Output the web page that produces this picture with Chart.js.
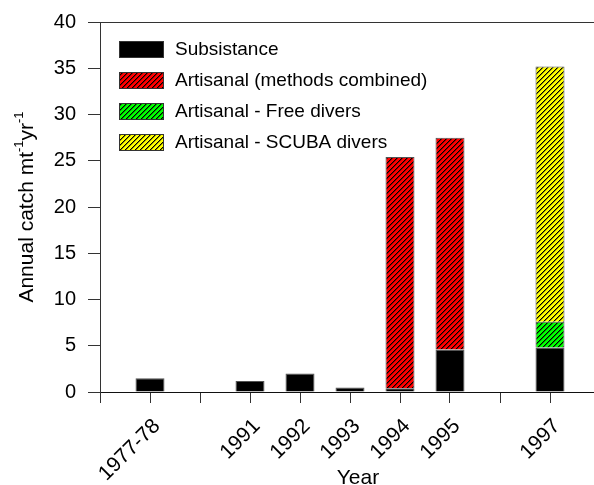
<!DOCTYPE html>
<html>
<head>
<meta charset="utf-8">
<script src="https://cdn.jsdelivr.net/npm/chart.js@4.4.1/dist/chart.umd.min.js"></script>
<style>
  html, body { margin: 0; padding: 0; background: #fff; }
  #wrap { width: 594px; height: 485px; position: relative; }
</style>
</head>
<body>
<div id="wrap"><canvas id="c" width="594" height="485"></canvas></div>
<script>
// Category slots along the x axis (blank slots leave gaps between periods)
const years = ['1977-78', '', '1991', '1992', '1993', '1994', '1995', '', '1997'];

// Annual catch (mt per year) by fishery component
const subsistence       = [1.5, null, 1.2, 2.0, 0.5, 0.4, 4.6, null, 4.8];
const artisanalCombined = [null, null, null, null, null, 25.0, 22.9, null, null];
const artisanalFree     = [null, null, null, null, null, null, null, null, 2.8];
const artisanalScuba    = [null, null, null, null, null, null, null, null, 27.6];

const yTicks = [0, 5, 10, 15, 20, 25, 30, 35, 40];

const FONT = '"Liberation Sans", Arial, Helvetica, sans-serif';

// Diagonal hatch fill ("/") over a solid colour, built pixel by pixel
function hatch(color) {
  const s = 5;
  const t = document.createElement('canvas');
  t.width = s; t.height = s;
  const g = t.getContext('2d');
  g.fillStyle = color;
  g.fillRect(0, 0, s, s);
  for (let y = 0; y < s; y++) {
    for (let x = 0; x < s; x++) {
      const d = (x + y) % s;
      if (d === s - 1) { g.fillStyle = '#000'; g.fillRect(x, y, 1, 1); }
      else if (d === 0) { g.fillStyle = 'rgba(0,0,0,0.45)'; g.fillRect(x, y, 1, 1); }
    }
  }
  return document.getElementById('c').getContext('2d').createPattern(t, 'repeat');
}

const series = [
  { label: 'Subsistance', values: subsistence, fill: '#000000' },
  { label: 'Artisanal (methods combined)', values: artisanalCombined, fill: hatch('#ff0000') },
  { label: 'Artisanal - Free divers', values: artisanalFree, fill: hatch('#00ff00') },
  { label: 'Artisanal - SCUBA divers', values: artisanalScuba, fill: hatch('#ffff00') }
];

function toPoints(values) {
  const pts = [];
  values.forEach((v, i) => { if (v !== null) pts.push({ x: i, y: v }); });
  return pts;
}

// In-plot legend with hatched swatches
const boxLegend = {
  id: 'boxLegend',
  afterDraw(chart) {
    const { ctx, chartArea } = chart;
    ctx.save();
    series.forEach((s, i) => {
      const x = chartArea.left + 19;
      const y = chartArea.top + 19 + i * 31;
      ctx.fillStyle = s.fill;
      ctx.fillRect(x, y, 45, 17);
      ctx.strokeStyle = '#333';
      ctx.lineWidth = 1;
      ctx.strokeRect(x + 0.5, y + 0.5, 44, 16);
      ctx.fillStyle = '#000';
      ctx.font = '19px ' + FONT;
      ctx.textBaseline = 'middle';
      ctx.textAlign = 'left';
      ctx.fillText(s.label, x + 56, y + 9);
    });
    ctx.restore();
  }
};

// Frame line along the top and axis titles (with superscripts)
const frameAndTitles = {
  id: 'frameAndTitles',
  afterDraw(chart) {
    const { ctx, chartArea } = chart;
    ctx.save();
    ctx.strokeStyle = '#333';
    ctx.lineWidth = 1;
    ctx.beginPath();
    ctx.moveTo(chartArea.left, chartArea.top + 0.5);
    ctx.lineTo(chartArea.right, chartArea.top + 0.5);
    ctx.stroke();

    // x title
    ctx.fillStyle = '#000';
    ctx.font = '21px ' + FONT;
    ctx.textAlign = 'center';
    ctx.textBaseline = 'alphabetic';
    ctx.fillText('Year', 358, 484);

    // y title: Annual catch mt^-1 yr^-1
    const parts = [
      ['Annual catch mt', false], ['-1', true], ['yr', false], ['-1', true]
    ];
    const big = '21px ' + FONT, small = '13px ' + FONT;
    let total = 0;
    parts.forEach(p => { ctx.font = p[1] ? small : big; total += ctx.measureText(p[0]).width; });
    const cy = (chartArea.top + chartArea.bottom) / 2;
    ctx.translate(33, cy);
    ctx.rotate(-Math.PI / 2);
    ctx.textAlign = 'left';
    let x = -total / 2;
    parts.forEach(p => {
      ctx.font = p[1] ? small : big;
      ctx.fillText(p[0], x, p[1] ? -10 : 0);
      x += ctx.measureText(p[0]).width;
    });
    ctx.restore();
  }
};

new Chart(document.getElementById('c'), {
  type: 'bar',
  data: {
    datasets: series.map(s => ({
      label: s.label,
      data: toPoints(s.values),
      backgroundColor: s.fill,
      borderColor: 'rgba(40,40,40,0.8)',
      borderWidth: 1,
      barPercentage: 0.58,
      categoryPercentage: 1.0
    }))
  },
  options: {
    responsive: false,
    animation: false,
    devicePixelRatio: 1,
    layout: { padding: { top: 22, right: 0, left: 0, bottom: 0 } },
    plugins: { legend: { display: false }, tooltip: { enabled: false } },
    scales: {
      x: {
        type: 'linear',
        stacked: true,
        offset: false,
        min: -1,
        max: 8.88,
        afterBuildTicks(scale) {
          const t = [];
          for (let i = -1; i <= 8; i++) t.push({ value: i });
          scale.ticks = t;
        },
        afterFit(scale) {
          scale.height = 93;
          scale.paddingLeft = 0;
          scale.paddingRight = 0;
        },
        ticks: {
          autoSkip: false,
          maxRotation: 45,
          minRotation: 45,
          padding: 11,
          labelOffset: 7,
          color: '#000',
          font: { family: FONT, size: 21 },
          callback: v => years[v] || ''
        },
        grid: { offset: false, drawOnChartArea: false, drawTicks: true, tickLength: 11, color: '#333' },
        border: { display: true, color: '#111', width: 1 }
      },
      y: {
        stacked: true,
        min: 0,
        max: 40,
        afterBuildTicks(scale) { scale.ticks = yTicks.map(v => ({ value: v })); },
        afterFit(scale) {
          scale.width = 100;
          scale.paddingTop = 0;
          scale.paddingBottom = 0;
        },
        ticks: {
          padding: 12,
          color: '#000',
          font: { family: FONT, size: 20 }
        },
        grid: { drawOnChartArea: false, drawTicks: true, tickLength: 12, color: '#333' },
        border: { display: true, color: '#333', width: 1 }
      }
    }
  },
  plugins: [boxLegend, frameAndTitles]
});
</script>
</body>
</html>
